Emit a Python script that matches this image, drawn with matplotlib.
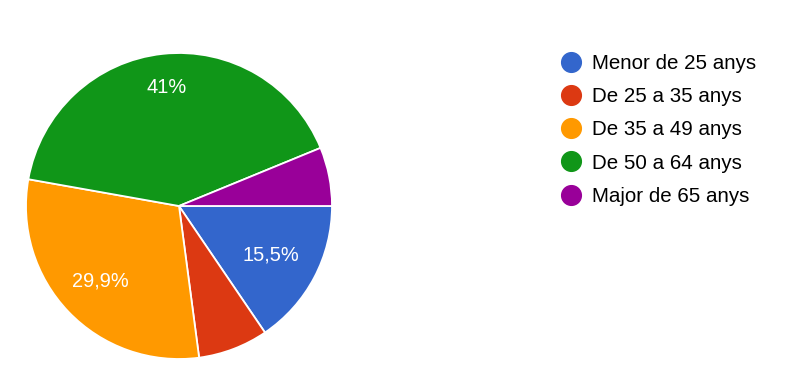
import matplotlib.pyplot as plt
from matplotlib.lines import Line2D
import numpy as np

plt.rcParams['font.family'] = ['Liberation Sans', 'DejaVu Sans']

# age groups and share of answers (%)
categories = ['Menor de 25 anys', 'De 25 a 35 anys', 'De 35 a 49 anys',
              'De 50 a 64 anys', 'Major de 65 anys']
shares = [15.5, 7.4, 29.9, 41.0, 6.2]
colors = ['#3366cc', '#dc3912', '#ff9900', '#109618', '#990099']
# radial position of the in-slice labels (fraction of radius), as in the original
label_dist = [0.68, 0.7, 0.71, 0.78, 0.7]


def fmt_pct(v):
    s = ('%.1f' % v).rstrip('0').rstrip('.')
    return s.replace('.', ',') + '%'


fig = plt.figure(figsize=(8, 3.92), dpi=100)
ax = fig.add_axes([26 / 800, 1 - 359 / 392, 306 / 800, 306 / 392])

wedges, _ = ax.pie(shares, colors=colors, startangle=0, counterclock=False,
                   radius=1.0, wedgeprops=dict(edgecolor='white', linewidth=1.3))

# percentage labels, only on slices big enough to hold them
for w, v, d in zip(wedges, shares, label_dist):
    if v < 10:
        continue
    ang = np.deg2rad((w.theta1 + w.theta2) / 2)
    ax.text(d * np.cos(ang), d * np.sin(ang), fmt_pct(v), color='white',
            fontsize=14.4, ha='center', va='center')

ax.set_xlim(-1, 1)
ax.set_ylim(-1, 1)
ax.set_aspect('equal')
ax.axis('off')

handles = [Line2D([], [], marker='o', linestyle='none', markersize=14.2,
                  markerfacecolor=c, markeredgecolor=c) for c in colors]
fig.legend(handles, categories, loc='upper left', bbox_to_anchor=(561 / 800, 1 - 54 / 392),
           frameon=False, fontsize=14.8, handletextpad=0.5, labelspacing=0.69,
           handlelength=1.0, borderaxespad=0, borderpad=0)

fig.savefig('out.png', dpi=100)
